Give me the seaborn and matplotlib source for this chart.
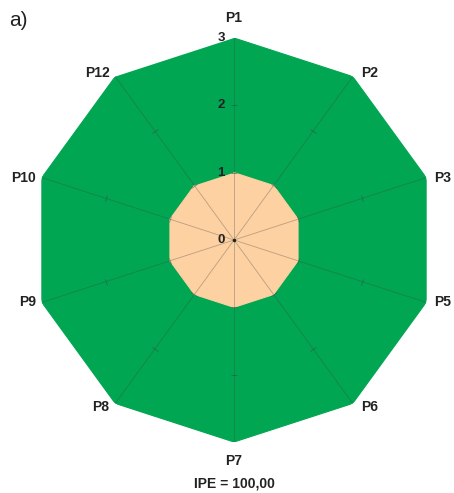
import numpy as np
import pandas as pd
import seaborn as sns
import matplotlib
matplotlib.use("Agg")
import matplotlib.pyplot as plt
from matplotlib.markers import MarkerStyle
from matplotlib.transforms import Affine2D

# Indicator names and the two scored profiles
categories = ["P1", "P2", "P3", "P5", "P6", "P7", "P8", "P9", "P10", "P12"]
outer_values = [3, 3, 3, 3, 3, 3, 3, 3, 3, 3]
inner_values = [1, 1, 1, 1, 1, 1, 1, 1, 1, 1]
radial_ticks = [0, 1, 2, 3]
panel_label = "a)"
footer_text = "IPE = 100,00"

GREEN = "#00A651"
PEACH = "#FDD1A1"

sns.set_theme(style="white")
plt.rcParams["font.family"] = ["Liberation Sans", "DejaVu Sans"]

n = len(categories)
theta = np.linspace(0, 2 * np.pi, n, endpoint=False)

fig = plt.figure(figsize=(4.54, 4.93), dpi=100)
W, H = 454, 493
cx, cy, R = 234, 240, 202
ax = fig.add_axes([(cx - R) / W, (H - cy - R) / H, 2 * R / W, 2 * R / H],
                  projection="polar")
ax.set_theta_offset(np.pi / 2)
ax.set_theta_direction(-1)
ax.set_ylim(0, 3)
ax.set_facecolor("none")
ax.spines["polar"].set_visible(False)
ax.grid(False)
ax.set_xticks([])
ax.set_yticks([])

def closed(vals):
    return np.append(theta, theta[0]), np.append(vals, vals[0])

# Filled profiles
for vals, col in [(outer_values, GREEN), (inner_values, PEACH)]:
    t, r = closed(np.array(vals, dtype=float))
    ax.fill(t, r, color=col, zorder=1, lw=0)
    df = pd.DataFrame({"theta": t, "r": r, "order": np.arange(len(t))})
    sns.lineplot(data=df, x="theta", y="r", sort=False, color=col,
                 lw=0.8, ax=ax, zorder=2)
ax.set_xlabel("")
ax.set_ylabel("")

# Spokes with small cross ticks
for th in theta:
    ax.plot([th, th], [0, max(radial_ticks)], color="#404040", lw=0.6,
            alpha=0.35, zorder=3)
    ang = 90 - np.degrees(th)
    mk = MarkerStyle("|", transform=Affine2D().rotate_deg(ang))
    for rv in radial_ticks[1:-1]:
        ax.plot([th], [rv], marker=mk, markersize=5, color="#404040",
                alpha=0.5, mew=0.6, zorder=3)
ax.plot([0], [0], marker="o", markersize=1.5, color="#222222", zorder=4)

# Radial scale labels along the first spoke
for rv in radial_ticks:
    ax.annotate(str(rv), xy=(0, rv), xytext=(-9, 0), textcoords="offset pixels",
                ha="right", va="center", fontsize=9.5, fontweight="bold",
                color="#222222", zorder=5)

# Category labels around the outside
for th, name in zip(theta, categories):
    s, c = np.sin(th), np.cos(th)
    if abs(s) < 1e-6:
        dx, dy = 0, (20 if c > 0 else -19)
        ha = "center"
    else:
        dx = 8 if s > 0 else -6
        dy = 4 * np.sign(c) if abs(c) > 0.5 else 0
        ha = "left" if s > 0 else "right"
    ax.annotate(name, xy=(th, 3), xytext=(dx, dy), textcoords="offset pixels",
                ha=ha, va="center", fontsize=10, fontweight="bold",
                color="#222222", annotation_clip=False)

fig.text(9 / W, 1 - 21 / H, panel_label, fontsize=15, ha="left", va="center",
         color="#222222")
fig.text(cx / W, 1 - 484 / H, footer_text, fontsize=10, fontweight="bold",
         ha="center", va="center", color="#222222")

fig.savefig("out.png", dpi=100)
